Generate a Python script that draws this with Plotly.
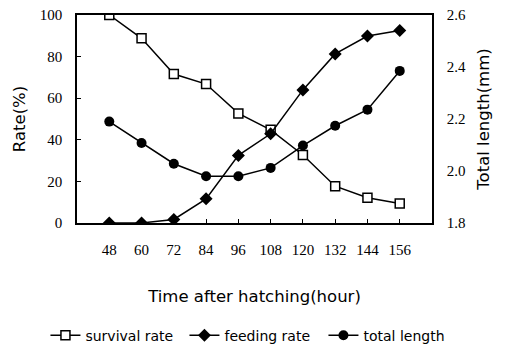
import plotly.graph_objects as go

hours = [48, 60, 72, 84, 96, 108, 120, 132, 144, 156]
survival_rate = [100, 88.8, 71.6, 66.8, 52.7, 44.8, 32.7, 17.7, 12.1, 9.4]
feeding_rate = [0, 0, 1.7, 11.6, 32.5, 42.9, 64.0, 81.3, 89.9, 92.5]
total_length = [2.190, 2.108, 2.028, 1.980, 1.980, 2.012, 2.098, 2.174, 2.236, 2.385]
left_ticks = [0, 20, 40, 60, 80, 100]
right_ticks = [1.8, 2.0, 2.2, 2.4, 2.6]

serif = "Liberation Serif"
sans = "DejaVu Sans"

fig = go.Figure()
fig.add_trace(go.Scatter(
    x=hours, y=survival_rate, name="survival rate", mode="lines+markers",
    line=dict(color="black", width=1.5),
    marker=dict(symbol="square", size=9, color="white", line=dict(color="black", width=1.5)),
))
fig.add_trace(go.Scatter(
    x=hours, y=feeding_rate, name="feeding rate", mode="lines+markers",
    line=dict(color="black", width=1.5),
    marker=dict(symbol="diamond", size=10, color="black"),
))
fig.add_trace(go.Scatter(
    x=hours, y=total_length, name="total length", mode="lines+markers", yaxis="y2",
    line=dict(color="black", width=1.5),
    marker=dict(symbol="circle", size=10, color="black"),
))

fig.update_layout(
    width=505, height=346,
    margin=dict(l=0, r=0, t=15, b=123, autoexpand=False),
    paper_bgcolor="white", plot_bgcolor="white",
    showlegend=True,
    legend=dict(orientation="h", x=0.09, xanchor="left", xref="container",
                y=0.03, yanchor="middle", yref="container",
                font=dict(family=sans, size=14, color="black"), itemwidth=30,
                entrywidth=94, entrywidthmode="pixels",
                tracegroupgap=0),
    xaxis=dict(
        domain=[77 / 505, 432 / 505],
        range=[36, 168], tickmode="array", tickvals=hours, ticktext=[str(h) for h in hours],
        ticks="inside", ticklen=4, tickcolor="black",
        showline=True, linecolor="black", linewidth=1.5, mirror=True,
        showgrid=False, zeroline=False, ticklabelstandoff=12,
        tickfont=dict(family=serif, size=15, color="black"),
        title=dict(text="Time after hatching(hour)", standoff=34,
                   font=dict(family=sans, size=16.5, color="black")),
    ),
    yaxis=dict(
        range=[0, 100], tickvals=left_ticks,
        ticks="inside", ticklen=4, tickcolor="black",
        showline=True, linecolor="black", linewidth=1.5,
        showgrid=False, zeroline=False, ticklabelstandoff=10,
        tickfont=dict(family=serif, size=15, color="black"),
        title=dict(text="Rate(%)", standoff=10, font=dict(family=sans, size=16.5, color="black")),
    ),
    yaxis2=dict(
        range=[1.8, 2.6], tickvals=right_ticks, tickformat=".1f",
        overlaying="y", side="right", anchor="x",
        ticks="", showline=True, linecolor="black", linewidth=1.5,
        showgrid=False, zeroline=False, ticklabelstandoff=10,
        tickfont=dict(family=serif, size=15, color="black"),
        title=dict(text="Total length(mm)", standoff=12, font=dict(family=sans, size=16.5, color="black")),
    ),
)

fig.write_html("out.html", config={"displayModeBar": False},
               post_script="document.body.style.margin='0';")
